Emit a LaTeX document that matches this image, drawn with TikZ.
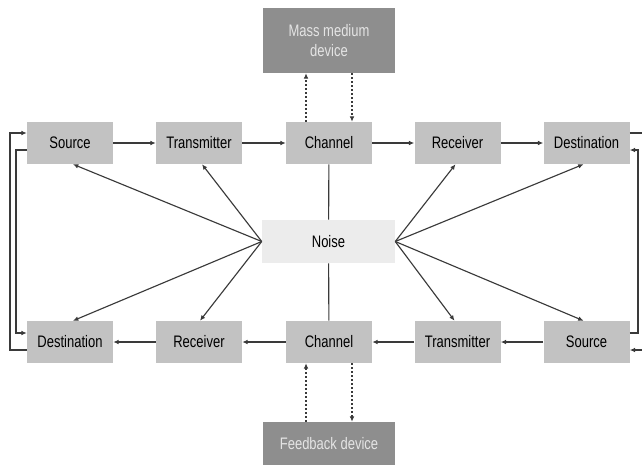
\documentclass[tikz,border=0pt]{standalone}
\usepackage{fontspec}
\setmainfont[FakeStretch=0.78]{Liberation Sans}
\usetikzlibrary{arrows.meta,calc}
\definecolor{boxgray}{HTML}{C2C2C2}
\definecolor{darkbox}{HTML}{8E8E8E}
\definecolor{noisegray}{HTML}{ECECEC}
\definecolor{linegray}{HTML}{3A3A3A}
\definecolor{lighttext}{HTML}{E4E4E4}
\tikzset{
  blk/.style={fill=boxgray, draw=none, minimum width=86*0.75pt, minimum height=42*0.75pt, inner sep=0pt, font=\fontsize{12.5}{14}\selectfont, text=black},
  dev/.style={fill=darkbox, draw=none, minimum width=132*0.75pt, inner sep=0pt, font=\fontsize{12.5}{15}\selectfont, text=lighttext, align=center},
  noisebox/.style={fill=noisegray, draw=none, minimum width=133*0.75pt, minimum height=43*0.75pt, inner sep=0pt, font=\fontsize{12.5}{14}\selectfont, text=black},
  conn/.style={draw=linegray, line width=0.85pt},
  arr/.style={conn, -{Latex[length=4pt,width=3.5pt]}},
  dotarr/.style={draw=linegray, line width=0.9pt, dash pattern=on 1.5pt off 1.5pt, -{Latex[length=4pt,width=3.5pt]}}
}
\begin{document}
\begin{tikzpicture}[x=0.75pt,y=-0.75pt]
\useasboundingbox (0,0) rectangle (642,464);
\clip (0,0) rectangle (642,464);
\fill[white] (0,0) rectangle (642,464);
% top row
\node[blk] (srcT) at (70,143) {Source};
\node[blk] (trT) at (199,143) {Transmitter};
\node[blk] (chT) at (329,143) {Channel};
\node[blk] (rcT) at (457.5,143) {Receiver};
\node[blk] (dstT) at (586.5,143) {Destination};
% bottom row
\node[blk] (dstB) at (70,342) {Destination};
\node[blk] (rcB) at (199,342) {Receiver};
\node[blk] (chB) at (329,342) {Channel};
\node[blk] (trB) at (457.5,342) {Transmitter};
\node[blk] (srcB) at (586.5,342) {Source};
% devices
\node[dev, minimum height=65*0.75pt] (mass) at (329,40.5) {Mass medium\\device};
\node[dev, minimum height=44*0.75pt] (fb) at (329,444) {Feedback device};
% noise
\node[noisebox] (noise) at (328.5,241.5) {Noise};
% main arrows
\draw[arr] (srcT) -- (trT);
\draw[arr] (trT) -- (chT);
\draw[arr] (chT) -- (rcT);
\draw[arr] (rcT) -- (dstT);
\draw[arr] (srcB) -- (trB);
\draw[arr] (trB) -- (chB);
\draw[arr] (chB) -- (rcB);
\draw[arr] (rcB) -- (dstB);
% channel to noise
\draw[conn] (chT) -- (noise);
\draw[conn] (chB) -- (noise);
% noise arrows
\draw[arr] (noise.west) -- ($(srcT.south)+(3,0)$);
\draw[arr] (noise.west) -- ($(trT.south)+(3,0)$);
\draw[arr] (noise.west) -- ($(dstB.north)+(3,0)$);
\draw[arr] (noise.west) -- ($(rcB.north)+(1,0)$);
\draw[arr] (noise.east) -- ($(rcT.south)+(-2,0)$);
\draw[arr] (noise.east) -- ($(dstT.south)+(-3,0)$);
\draw[arr] (noise.east) -- ($(trB.north)+(-3,0)$);
\draw[arr] (noise.east) -- ($(srcB.north)+(-3,0)$);
% dotted device links
\draw[dotarr] ($(chT.north)+(-23,0)$) -- ($(mass.south)+(-23,0)$);
\draw[dotarr] ($(mass.south)+(23,0)$) -- ($(chT.north)+(23,0)$);
\draw[dotarr] ($(fb.north)+(-23,0)$) -- ($(chB.south)+(-23,0)$);
\draw[dotarr] ($(chB.south)+(23,0)$) -- ($(fb.north)+(23,0)$);
% feedback loops
\coordinate (lo) at (10,0);
\coordinate (li) at (16,0);
\coordinate (ri) at (638,0);
\coordinate (ro) at (646,0);
\coordinate (a1) at ($(dstB.west)+(0,8)$);
\coordinate (b1) at ($(srcT.west)+(0,-10)$);
\draw[arr] (a1) -- (a1 -| lo) |- (b1);
\coordinate (a2) at ($(srcT.west)+(0,7)$);
\coordinate (b2) at ($(dstB.west)+(0,-9)$);
\draw[arr] (a2) -- (a2 -| li) |- (b2);
\coordinate (a3) at ($(srcB.east)+(0,-9)$);
\coordinate (b3) at ($(dstT.east)+(0,7)$);
\draw[arr] (a3) -- (a3 -| ri) |- (b3);
\coordinate (a4) at ($(dstT.east)+(0,-10)$);
\coordinate (b4) at ($(srcB.east)+(0,8)$);
\draw[arr] (a4) -- (a4 -| ro) |- (b4);
\end{tikzpicture}
\end{document}
